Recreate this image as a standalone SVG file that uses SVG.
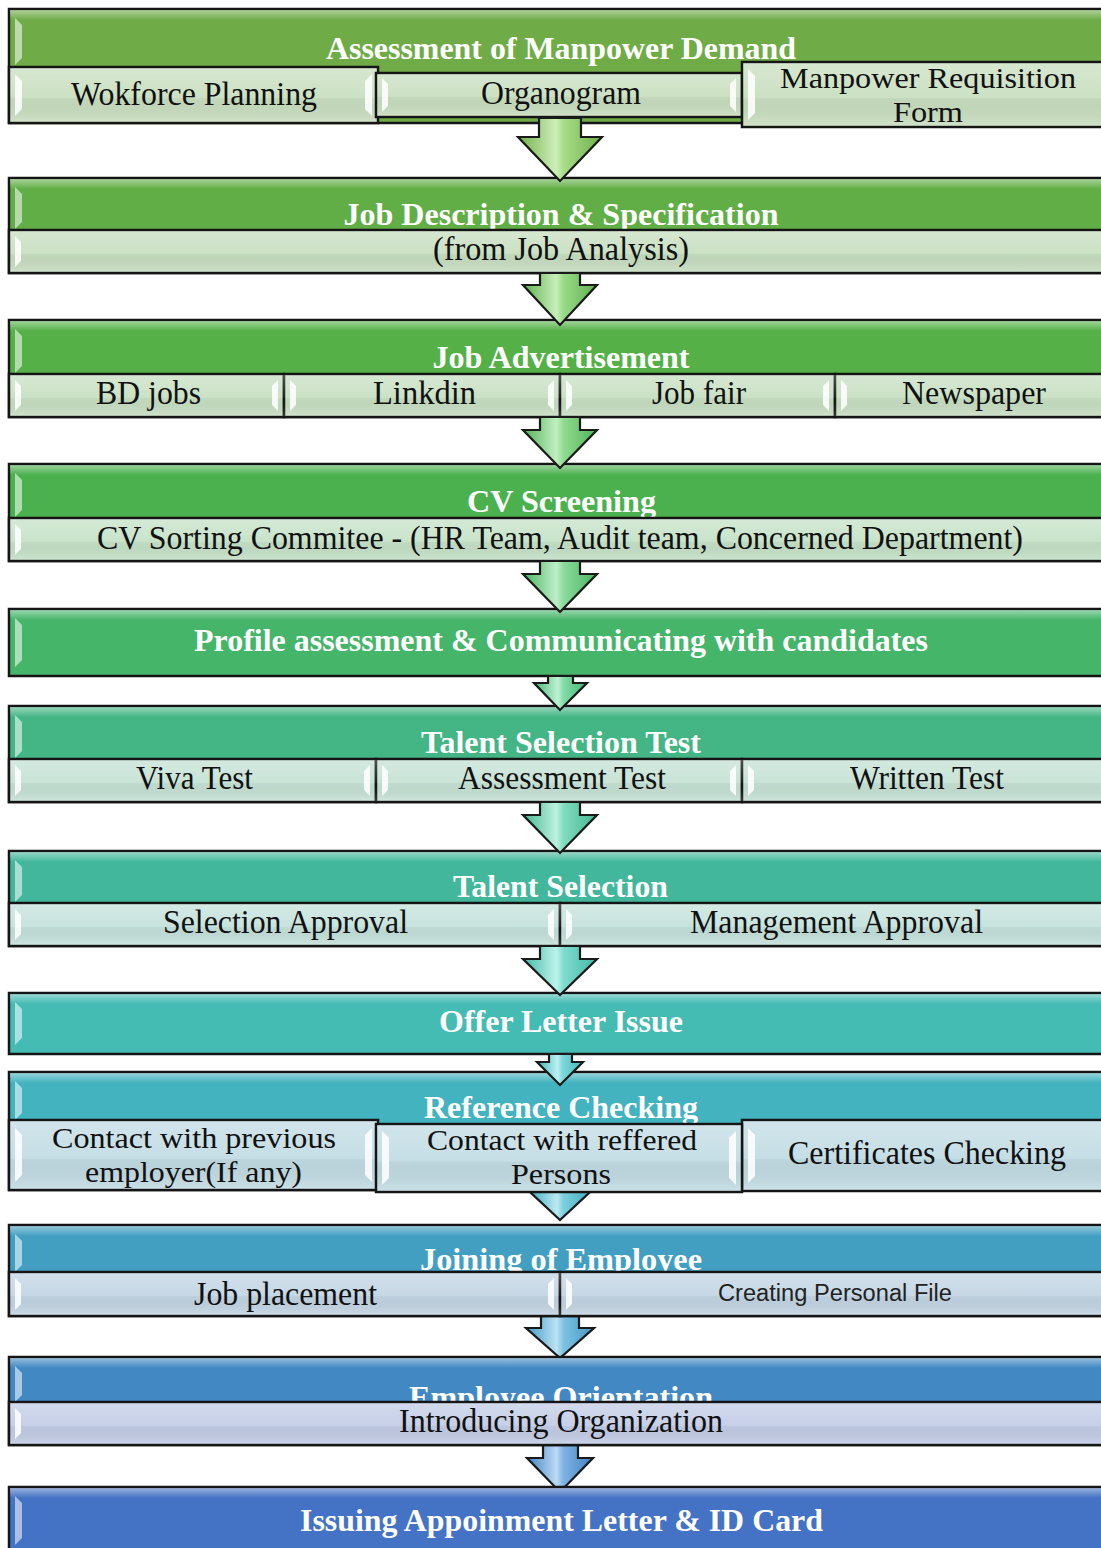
<svg xmlns="http://www.w3.org/2000/svg" width="1101" height="1548" viewBox="0 0 1101 1548">
<style>
.hd{stroke:#151515;stroke-width:2.5}
.sb{stroke:#151515;stroke-width:2.5}
.ht{font-family:"Liberation Serif","Times New Roman",serif;font-weight:bold;fill:#ffffff;font-size:31px;text-anchor:middle}
.st{font-family:"Liberation Serif","Times New Roman",serif;fill:#111111;font-size:33px;text-anchor:middle}
.st2{font-family:"Liberation Serif","Times New Roman",serif;fill:#111111;font-size:30px;text-anchor:middle}
.ss{font-family:"Liberation Sans",Arial,sans-serif;fill:#222222;font-size:23px;text-anchor:middle}
.bev{fill:#ffffff;opacity:0.55}
.sbev{fill:#ffffff;opacity:0.85}
.arr{stroke:#1a1a1a;stroke-width:2.2;stroke-linejoin:miter}
.top{fill:url(#topHi)}
</style>
<defs>
<clipPath id="clipOrient"><rect x="9" y="1357" width="1110" height="45"/></clipPath>
<clipPath id="clipJoin"><rect x="9" y="1225" width="1110" height="47"/></clipPath>
<linearGradient id="topHi" x1="0" y1="0" x2="0" y2="1">
<stop offset="0" stop-color="#ffffff" stop-opacity="0.45"/>
<stop offset="1" stop-color="#ffffff" stop-opacity="0"/>
</linearGradient>
<linearGradient id="subHi" x1="0" y1="0" x2="0" y2="1">
<stop offset="0" stop-color="#ffffff" stop-opacity="0.25"/>
<stop offset="0.55" stop-color="#ffffff" stop-opacity="0.05"/>
<stop offset="0.56" stop-color="#000000" stop-opacity="0.03"/>
<stop offset="1" stop-color="#ffffff" stop-opacity="0.15"/>
</linearGradient>
<linearGradient id="ag1" x1="0" y1="0" x2="1" y2="0"><stop offset="0" stop-color="#6FB04A"/><stop offset="0.45" stop-color="#CDEFB8"/><stop offset="0.55" stop-color="#A6DC85"/><stop offset="1" stop-color="#6FB04A"/></linearGradient>
<linearGradient id="ag2" x1="0" y1="0" x2="1" y2="0"><stop offset="0" stop-color="#5FB04E"/><stop offset="0.45" stop-color="#C6EFB8"/><stop offset="0.55" stop-color="#98DA87"/><stop offset="1" stop-color="#5FB04E"/></linearGradient>
<linearGradient id="ag3" x1="0" y1="0" x2="1" y2="0"><stop offset="0" stop-color="#52B254"/><stop offset="0.45" stop-color="#C0EFC0"/><stop offset="0.55" stop-color="#8FDB90"/><stop offset="1" stop-color="#52B254"/></linearGradient>
<linearGradient id="ag4" x1="0" y1="0" x2="1" y2="0"><stop offset="0" stop-color="#4AB35E"/><stop offset="0.45" stop-color="#BDEFC8"/><stop offset="0.55" stop-color="#8ADB9C"/><stop offset="1" stop-color="#4AB35E"/></linearGradient>
<linearGradient id="ag5" x1="0" y1="0" x2="1" y2="0"><stop offset="0" stop-color="#45B574"/><stop offset="0.45" stop-color="#BFF2D4"/><stop offset="0.55" stop-color="#84DCA8"/><stop offset="1" stop-color="#45B574"/></linearGradient>
<linearGradient id="ag6" x1="0" y1="0" x2="1" y2="0"><stop offset="0" stop-color="#43B690"/><stop offset="0.45" stop-color="#BDF2E0"/><stop offset="0.55" stop-color="#80DCBE"/><stop offset="1" stop-color="#43B690"/></linearGradient>
<linearGradient id="ag7" x1="0" y1="0" x2="1" y2="0"><stop offset="0" stop-color="#42B8A7"/><stop offset="0.45" stop-color="#BCF2EA"/><stop offset="0.55" stop-color="#7EDCCE"/><stop offset="1" stop-color="#42B8A7"/></linearGradient>
<linearGradient id="ag8" x1="0" y1="0" x2="1" y2="0"><stop offset="0" stop-color="#43B8BA"/><stop offset="0.45" stop-color="#BCF0F2"/><stop offset="0.55" stop-color="#7ED8DC"/><stop offset="1" stop-color="#43B8BA"/></linearGradient>
<linearGradient id="ag9" x1="0" y1="0" x2="1" y2="0"><stop offset="0" stop-color="#42AEC1"/><stop offset="0.45" stop-color="#BCEAF2"/><stop offset="0.55" stop-color="#7ED0DE"/><stop offset="1" stop-color="#42AEC1"/></linearGradient>
<linearGradient id="ag10" x1="0" y1="0" x2="1" y2="0"><stop offset="0" stop-color="#4299C3"/><stop offset="0.45" stop-color="#BCE2F4"/><stop offset="0.55" stop-color="#7EC2E2"/><stop offset="1" stop-color="#4299C3"/></linearGradient>
<linearGradient id="ag11" x1="0" y1="0" x2="1" y2="0"><stop offset="0" stop-color="#4283C3"/><stop offset="0.45" stop-color="#BCDAF4"/><stop offset="0.55" stop-color="#7EB2E2"/><stop offset="1" stop-color="#4283C3"/></linearGradient>
</defs>
<rect width="1101" height="1548" fill="#ffffff"/>

<g id="node-assessment">
<rect class="hd" x="9" y="9" width="1110" height="114" fill="#6FAC47"/>
<rect class="top" x="10" y="10" width="1100" height="10"/>
<path class="bev" d="M15,18 L22,25 V58 L15,65 Z"/>
<text class="ht" x="561" y="59" textLength="470" lengthAdjust="spacingAndGlyphs">Assessment of Manpower Demand</text>
<rect class="sb" x="9" y="67" width="369" height="56" fill="#C9DFC0"/>
<rect x="10" y="68" width="367" height="54" fill="url(#subHi)"/>
<path class="sbev" d="M15,74 L22,81 V109 L15,116 Z"/>
<path class="sbev" d="M372,74 L365,81 V109 L372,116 Z"/>
<text class="st" x="194" y="105" textLength="246" lengthAdjust="spacingAndGlyphs">Wokforce Planning</text>
<rect class="sb" x="376" y="73" width="366" height="44" fill="#C9DFC0"/>
<rect x="377" y="74" width="364" height="42" fill="url(#subHi)"/>
<path class="sbev" d="M382,78 L388,84 V106 L382,112 Z"/>
<path class="sbev" d="M736,78 L730,84 V106 L736,112 Z"/>
<text class="st" x="561" y="104" textLength="160" lengthAdjust="spacingAndGlyphs">Organogram</text>
<rect class="sb" x="742" y="62" width="370" height="65" fill="#C9DFC0"/>
<rect x="743" y="63" width="368" height="63" fill="url(#subHi)"/>
<path class="sbev" d="M748,69 L755,76 V113 L748,120 Z"/>
<text class="st2" x="928" y="88" textLength="296" lengthAdjust="spacingAndGlyphs">Manpower Requisition</text>
<text class="st2" x="928" y="122" textLength="70" lengthAdjust="spacingAndGlyphs">Form</text>
</g>

<g id="node-job-description">
<rect class="hd" x="9" y="178" width="1110" height="95" fill="#61AE46"/>
<rect class="top" x="10" y="179" width="1100" height="10"/>
<path class="bev" d="M15,187 L22,194 V222 L15,229 Z"/>
<text class="ht" x="561" y="225" textLength="435" lengthAdjust="spacingAndGlyphs">Job Description &amp; Specification</text>
<rect class="sb" x="9" y="230" width="1110" height="43" fill="#C8DFC1"/>
<rect x="10" y="231" width="1100" height="41" fill="url(#subHi)"/>
<path class="sbev" d="M15,236 L21,242 V261 L15,267 Z"/>
<text class="st" x="561" y="260" textLength="256" lengthAdjust="spacingAndGlyphs">(from Job Analysis)</text>
</g>

<g id="node-job-advertisement">
<rect class="hd" x="9" y="320" width="1110" height="97" fill="#55B047"/>
<rect class="top" x="10" y="321" width="1100" height="10"/>
<path class="bev" d="M15,329 L22,336 V366 L15,373 Z"/>
<text class="ht" x="561" y="368" textLength="257" lengthAdjust="spacingAndGlyphs">Job Advertisement</text>
<rect class="sb" x="9" y="374" width="275" height="43" fill="#C8E0C3"/>
<rect class="sb" x="284" y="374" width="276" height="43" fill="#C8E0C3"/>
<rect class="sb" x="560" y="374" width="275" height="43" fill="#C8E0C3"/>
<rect class="sb" x="835" y="374" width="280" height="43" fill="#C8E0C3"/>
<rect x="10" y="375" width="1100" height="41" fill="url(#subHi)"/>
<path class="sbev" d="M15,380 L21,386 V405 L15,411 Z"/>
<path class="sbev" d="M278,380 L272,386 V405 L278,411 Z"/>
<path class="sbev" d="M290,380 L296,386 V405 L290,411 Z"/>
<path class="sbev" d="M554,380 L548,386 V405 L554,411 Z"/>
<path class="sbev" d="M566,380 L572,386 V405 L566,411 Z"/>
<path class="sbev" d="M829,380 L823,386 V405 L829,411 Z"/>
<path class="sbev" d="M841,380 L847,386 V405 L841,411 Z"/>
<text class="st" x="148.5" y="404" textLength="105" lengthAdjust="spacingAndGlyphs">BD jobs</text>
<text class="st" x="424.5" y="404" textLength="103" lengthAdjust="spacingAndGlyphs">Linkdin</text>
<text class="st" x="699" y="404" textLength="94" lengthAdjust="spacingAndGlyphs">Job fair</text>
<text class="st" x="974" y="404" textLength="144" lengthAdjust="spacingAndGlyphs">Newspaper</text>
</g>

<g id="node-cv-screening">
<rect class="hd" x="9" y="464" width="1110" height="97" fill="#4BB14F"/>
<rect class="top" x="10" y="465" width="1100" height="10"/>
<path class="bev" d="M15,473 L22,480 V510 L15,517 Z"/>
<text class="ht" x="561.5" y="512" textLength="189" lengthAdjust="spacingAndGlyphs">CV Screening</text>
<rect class="sb" x="9" y="518" width="1110" height="43" fill="#C6E2C8"/>
<rect x="10" y="519" width="1100" height="41" fill="url(#subHi)"/>
<path class="sbev" d="M15,524 L21,530 V549 L15,555 Z"/>
<text class="st" x="560" y="549" textLength="926" lengthAdjust="spacingAndGlyphs">CV Sorting Commitee - (HR Team, Audit team, Concerned Department)</text>
</g>

<g id="node-profile-assessment">
<rect class="hd" x="9" y="609" width="1110" height="67" fill="#45B56A"/>
<rect class="top" x="10" y="610" width="1100" height="10"/>
<path class="bev" d="M15,618 L22,625 V660 L15,667 Z"/>
<text class="ht" x="561" y="651" textLength="734" lengthAdjust="spacingAndGlyphs">Profile assessment &amp; Communicating with candidates</text>
</g>

<g id="node-talent-selection-test">
<rect class="hd" x="9" y="706" width="1110" height="96" fill="#44B585"/>
<rect class="top" x="10" y="707" width="1100" height="10"/>
<path class="bev" d="M15,715 L22,722 V751 L15,758 Z"/>
<text class="ht" x="561" y="753" textLength="280" lengthAdjust="spacingAndGlyphs">Talent Selection Test</text>
<rect class="sb" x="9" y="759" width="367" height="43" fill="#C6E2D5"/>
<rect class="sb" x="376" y="759" width="366" height="43" fill="#C6E2D5"/>
<rect class="sb" x="742" y="759" width="373" height="43" fill="#C6E2D5"/>
<rect x="10" y="760" width="1100" height="41" fill="url(#subHi)"/>
<path class="sbev" d="M15,765 L21,771 V790 L15,796 Z"/>
<path class="sbev" d="M370,765 L364,771 V790 L370,796 Z"/>
<path class="sbev" d="M382,765 L388,771 V790 L382,796 Z"/>
<path class="sbev" d="M736,765 L730,771 V790 L736,796 Z"/>
<path class="sbev" d="M748,765 L754,771 V790 L748,796 Z"/>
<text class="st" x="194.5" y="789" textLength="117" lengthAdjust="spacingAndGlyphs">Viva Test</text>
<text class="st" x="562" y="789" textLength="208" lengthAdjust="spacingAndGlyphs">Assessment Test</text>
<text class="st" x="927" y="789" textLength="154" lengthAdjust="spacingAndGlyphs">Written Test</text>
</g>

<g id="node-talent-selection">
<rect class="hd" x="9" y="851" width="1110" height="95" fill="#42B79B"/>
<rect class="top" x="10" y="852" width="1100" height="10"/>
<path class="bev" d="M15,860 L22,867 V895 L15,902 Z"/>
<text class="ht" x="560.5" y="897" textLength="215" lengthAdjust="spacingAndGlyphs">Talent Selection</text>
<rect class="sb" x="9" y="903" width="551" height="43" fill="#C5E2DC"/>
<rect class="sb" x="560" y="903" width="555" height="43" fill="#C5E2DC"/>
<rect x="10" y="904" width="1100" height="41" fill="url(#subHi)"/>
<path class="sbev" d="M15,909 L21,915 V934 L15,940 Z"/>
<path class="sbev" d="M554,909 L548,915 V934 L554,940 Z"/>
<path class="sbev" d="M566,909 L572,915 V934 L566,940 Z"/>
<text class="st" x="285.5" y="933" textLength="245" lengthAdjust="spacingAndGlyphs">Selection Approval</text>
<text class="st" x="836.5" y="933" textLength="293" lengthAdjust="spacingAndGlyphs">Management Approval</text>
</g>

<g id="node-offer-letter">
<rect class="hd" x="9" y="993" width="1110" height="61" fill="#44BBB3"/>
<rect class="top" x="10" y="994" width="1100" height="10"/>
<path class="bev" d="M15,1002 L22,1009 V1038 L15,1045 Z"/>
<text class="ht" x="561" y="1032" textLength="244" lengthAdjust="spacingAndGlyphs">Offer Letter Issue</text>
</g>

<g id="node-reference-checking">
<rect class="hd" x="9" y="1072" width="1110" height="118" fill="#42B3BF"/>
<rect class="top" x="10" y="1073" width="1100" height="10"/>
<path class="bev" d="M15,1081 L22,1088 V1113 L15,1120 Z"/>
<text class="ht" x="561" y="1118" textLength="274" lengthAdjust="spacingAndGlyphs">Reference Checking</text>
<rect class="sb" x="9" y="1120" width="369" height="70" fill="#C2DCE4"/>
<rect x="10" y="1121" width="367" height="68" fill="url(#subHi)"/>
<path class="sbev" d="M15,1128 L22,1135 V1175 L15,1182 Z"/>
<path class="sbev" d="M372,1128 L365,1135 V1175 L372,1182 Z"/>
<text class="st2" x="194" y="1148" textLength="284" lengthAdjust="spacingAndGlyphs">Contact with previous</text>
<text class="st2" x="193.5" y="1182" textLength="217" lengthAdjust="spacingAndGlyphs">employer(If any)</text>
<rect class="sb" x="742" y="1120" width="373" height="71" fill="#C2DCE4"/>
<rect x="743" y="1121" width="368" height="69" fill="url(#subHi)"/>
<path class="sbev" d="M748,1128 L755,1135 V1176 L748,1183 Z"/>
<text class="st" x="927" y="1164" textLength="278" lengthAdjust="spacingAndGlyphs">Certificates Checking</text>
</g>

<g id="connectors">
<path class="arr" fill="url(#ag1)" d="M539,118 H581 V137 H602 L560,181 L518,137 H539 Z"/>
<path class="arr" fill="url(#ag2)" d="M540,273 H580 V285 H597 L560,325 L523,285 H540 Z"/>
<path class="arr" fill="url(#ag3)" d="M540,417 H580 V430 H597 L560,468 L523,430 H540 Z"/>
<path class="arr" fill="url(#ag4)" d="M540,561 H580 V574 H597 L560,612 L523,574 H540 Z"/>
<path class="arr" fill="url(#ag5)" d="M548,676 H573 V683 H587 L560,710 L534,683 H548 Z"/>
<path class="arr" fill="url(#ag6)" d="M540,802 H580 V815 H597 L560,853 L523,815 H540 Z"/>
<path class="arr" fill="url(#ag7)" d="M540,946 H580 V959 H597 L560,995 L523,959 H540 Z"/>
<path class="arr" fill="url(#ag8)" d="M549,1054 H572 V1062 H583 L560,1085 L537,1062 H549 Z"/>
<path class="arr" fill="url(#ag9)" d="M530,1192 H590 L560,1220 Z"/>
<path class="arr" fill="url(#ag10)" d="M541,1316 H579 V1328 H594 L560,1358 L526,1328 H541 Z"/>
<path class="arr" fill="url(#ag11)" d="M543,1445 H578 V1458 H593 L560,1492 L527,1458 H543 Z"/>
</g>

<g id="node-reference-middle">
<rect class="sb" x="376" y="1124" width="366" height="68" fill="#C2DCE4"/>
<rect x="377" y="1125" width="364" height="66" fill="url(#subHi)"/>
<path class="sbev" d="M382,1131 L389,1138 V1178 L382,1185 Z"/>
<path class="sbev" d="M736,1131 L729,1138 V1178 L736,1185 Z"/>
<text class="st2" x="562" y="1150" textLength="270" lengthAdjust="spacingAndGlyphs">Contact with reffered</text>
<text class="st2" x="561" y="1184" textLength="100" lengthAdjust="spacingAndGlyphs">Persons</text>
</g>

<g id="node-joining">
<rect class="hd" x="9" y="1225" width="1110" height="91" fill="#429FC2"/>
<rect class="top" x="10" y="1226" width="1100" height="10"/>
<path class="bev" d="M15,1234 L22,1241 V1265 L15,1272 Z"/>
<text class="ht" x="561" y="1270" textLength="282" lengthAdjust="spacingAndGlyphs" clip-path="url(#clipJoin)">Joining of Employee</text>
<rect class="sb" x="9" y="1272" width="551" height="44" fill="#C3D5E4"/>
<rect class="sb" x="560" y="1272" width="555" height="44" fill="#C3D5E4"/>
<rect x="10" y="1273" width="1100" height="42" fill="url(#subHi)"/>
<path class="sbev" d="M15,1278 L21,1284 V1304 L15,1310 Z"/>
<path class="sbev" d="M554,1278 L548,1284 V1304 L554,1310 Z"/>
<path class="sbev" d="M566,1278 L572,1284 V1304 L566,1310 Z"/>
<text class="st" x="285.5" y="1305" textLength="183" lengthAdjust="spacingAndGlyphs">Job placement</text>
<text class="ss" x="835" y="1301" textLength="234" lengthAdjust="spacingAndGlyphs">Creating Personal File</text>
</g>

<g id="node-orientation">
<rect class="hd" x="9" y="1357" width="1110" height="88" fill="#4288C3"/>
<rect class="top" x="10" y="1358" width="1100" height="10"/>
<path class="bev" d="M15,1366 L22,1373 V1395 L15,1402 Z"/>
<text class="ht" x="561" y="1408" textLength="304" lengthAdjust="spacingAndGlyphs" clip-path="url(#clipOrient)">Employee Orientation</text>
<rect class="sb" x="9" y="1402" width="1110" height="43" fill="#C3CDE6"/>
<rect x="10" y="1403" width="1100" height="41" fill="url(#subHi)"/>
<path class="sbev" d="M15,1408 L21,1414 V1433 L15,1439 Z"/>
<text class="st" x="561" y="1432" textLength="324" lengthAdjust="spacingAndGlyphs">Introducing Organization</text>
</g>

<g id="node-appointment">
<rect class="hd" x="9" y="1487" width="1110" height="75" fill="#4472C4"/>
<rect class="top" x="10" y="1488" width="1100" height="10"/>
<path class="bev" d="M15,1496 L22,1503 V1538 L15,1545 Z"/>
<text class="ht" x="561.5" y="1531" textLength="523" lengthAdjust="spacingAndGlyphs">Issuing Appoinment Letter &amp; ID Card</text>
</g>
</svg>
